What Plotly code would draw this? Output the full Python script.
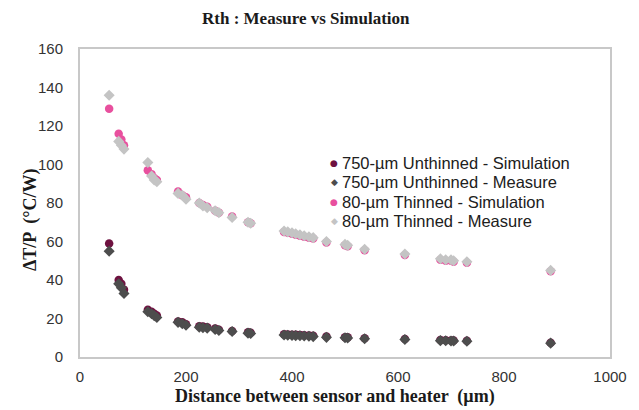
import plotly.graph_objects as go

distance_um = [55, 73, 78, 83, 128, 135, 140, 145, 185, 193, 200, 225, 232, 240, 255, 262,
               287, 317, 322, 385, 392, 400, 407, 415, 423, 432, 440, 465, 500, 505, 537,
               613, 680, 690, 700, 705, 730, 888]

unthinned_sim = [59, 40, 38, 35, 24.5, 23.5, 22.5, 21.5, 18.5, 18, 17, 16, 15.8, 15.5, 14.8, 14.2,
                 13.5, 12.8, 12.6, 11.8, 11.7, 11.6, 11.5, 11.4, 11.3, 11.2, 11.0, 10.6, 10.3, 10.2, 9.8,
                 9.4, 8.8, 8.7, 8.6, 8.6, 8.5, 7.4]
unthinned_meas = [55, 38, 36, 33, 23.5, 22.5, 21.5, 20.5, 18, 17.3, 16.5, 15.5, 15.2, 15, 14.3, 13.8,
                  13.2, 12.4, 12.2, 11.4, 11.3, 11.2, 11.1, 11.0, 10.9, 10.8, 10.6, 10.2, 10.0, 9.9, 9.5,
                  9.1, 8.5, 8.4, 8.3, 8.3, 8.2, 7.2]
thinned_sim = [129, 116, 113, 110, 97, 95, 93, 92, 86, 84, 83, 80, 79, 78, 76, 75,
               73, 70, 69.5, 65, 64.5, 64, 63.5, 63, 62.5, 62, 61.5, 59.5, 58, 57.5, 55.5,
               53, 50.5, 50, 50, 49.5, 49, 44.5]
thinned_meas = [136, 112, 110, 108, 101, 94, 92, 91, 85, 84, 82, 80, 78.5, 77.5, 76, 75,
                72.5, 70, 69.5, 65.5, 65, 64.5, 64, 63.5, 63, 62.5, 62, 60, 58.5, 58, 56,
                53.5, 51, 50.5, 50.5, 50, 49.5, 45]

series_names = ["750-µm Unthinned - Simulation", "750-µm Unthinned - Measure",
                "80-µm Thinned - Simulation", "80-µm Thinned - Measure"]
series_values = [unthinned_sim, unthinned_meas, thinned_sim, thinned_meas]
series_colors = ["#6e1240", "#4d4d4d", "#e8509e", "#c4c4c4"]
series_symbols = ["circle", "diamond", "circle", "diamond"]
legend_glyphs = ["●", "◆", "●", "◆"]

# the page body adds an 8px margin, so the figure is laid out 8px up/left
OFF = 8
FIG_W, FIG_H = 639 - OFF, 410 - OFF
PLOT_L, PLOT_R, PLOT_T, PLOT_B = 80 - OFF, 610 - OFF, 49 - OFF, 357 - OFF
W_PLOT, H_PLOT = PLOT_R - PLOT_L, PLOT_B - PLOT_T


def px_x(px):
    return (px - OFF - PLOT_L) / W_PLOT


def px_y(py):
    return (PLOT_B - (py - OFF)) / H_PLOT


fig = go.Figure()
for name, vals, col, sym in zip(series_names, series_values, series_colors, series_symbols):
    fig.add_trace(go.Scatter(
        x=distance_um, y=vals, mode="markers", name=name, showlegend=False,
        marker=dict(color=col, symbol=sym, size=8.5, line=dict(width=0)),
    ))

serif = "Liberation Serif, Times New Roman, serif"
sans = "Liberation Sans, Arial, sans-serif"
annotations = [
    dict(text="<b>Rth : Measure vs Simulation</b>", xref="paper", yref="paper",
         x=px_x(306), y=px_y(18), xanchor="center", yanchor="middle",
         showarrow=False, font=dict(family=serif, size=17, color="#1a1a1a")),
    dict(text="<b>Distance between sensor and heater  (µm)</b>", xref="paper", yref="paper",
         x=px_x(335), y=px_y(396), xanchor="center", yanchor="middle",
         showarrow=False, font=dict(family=serif, size=18, color="#1a1a1a")),
    dict(text="<b>ΔT/P  (°C/W)</b>", xref="paper", yref="paper", textangle=-90,
         x=px_x(30), y=px_y(220), xanchor="center", yanchor="middle",
         showarrow=False, font=dict(family=serif, size=18, color="#1a1a1a")),
]

# legend, drawn as text
legend_rows_y = [162.5, 182, 201.5, 221]
for name, col, glyph, ry in zip(series_names, series_colors, legend_glyphs, legend_rows_y):
    annotations.append(dict(text=glyph, xref="paper", yref="paper", x=px_x(334), y=px_y(ry),
                            xanchor="center", yanchor="middle", showarrow=False, borderpad=0,
                            font=dict(family="DejaVu Sans", size=9, color=col)))
    annotations.append(dict(text=name, xref="paper", yref="paper", x=px_x(341), y=px_y(ry),
                            xanchor="left", yanchor="middle", showarrow=False, borderpad=0,
                            font=dict(family=sans, size=16.5, color="#202020")))

fig.update_layout(
    width=FIG_W, height=FIG_H,
    margin=dict(l=PLOT_L, r=FIG_W - PLOT_R, t=PLOT_T, b=FIG_H - PLOT_B),
    paper_bgcolor="white", plot_bgcolor="white",
    showlegend=False,
    font=dict(family=sans, size=15, color="#333333"),
    annotations=annotations,
)
fig.update_xaxes(range=[0, 1000], dtick=200, tick0=0, showgrid=False, zeroline=False,
                 showline=True, mirror=True, linecolor="#c8c8c8", linewidth=2,
                 ticks="", ticklabelstandoff=5)
fig.update_yaxes(range=[0, 160], dtick=20, tick0=0, showgrid=False, zeroline=False,
                 showline=True, mirror=True, linecolor="#c8c8c8", linewidth=2,
                 ticks="", ticklabelstandoff=12)

fig.write_html("out.html")
